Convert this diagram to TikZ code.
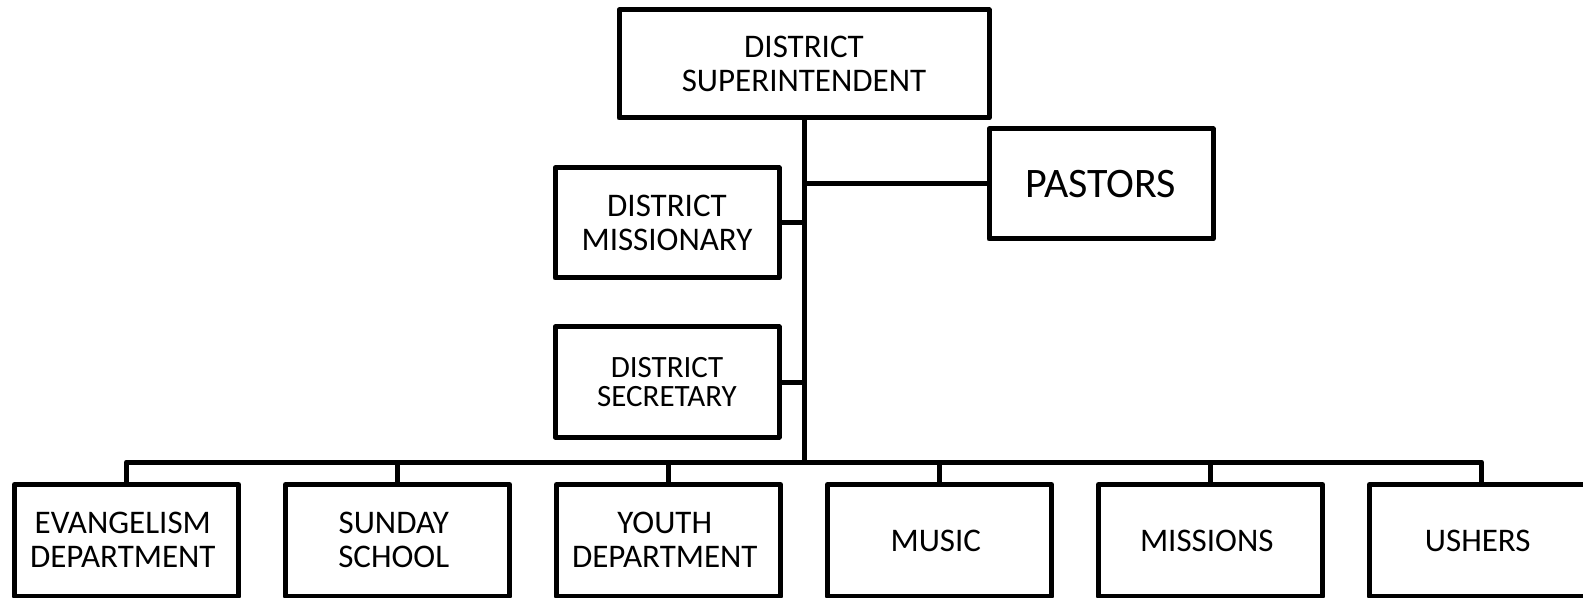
\documentclass[tikz,border=0pt]{standalone}
\usepackage{fontspec}
\setmainfont{Carlito}
\usetikzlibrary{matrix,positioning}

\newcommand{\twolines}[2]{\raisebox{-1.8pt}[\height][\depth]{\begin{tabular}{@{}c@{}}#1\\#2\end{tabular}}}

\begin{document}
\begin{tikzpicture}[x=0.5pt,y=-0.5pt,line width=2.5pt,line join=round,
	box/.style={draw,rectangle,outer sep=0pt,inner sep=0pt,
		minimum width=112pt,minimum height=55pt,align=center,
		font=\fontsize{16.5}{17}\selectfont}]

\useasboundingbox (0,0) rectangle (1583,598);

\node[box,minimum width=185pt,minimum height=54pt] (super) at (804,64) {DISTRICT\\SUPERINTENDENT};
\node[box,font=\fontsize{21}{22}\selectfont] (pastors) at (1101,184) {PASTORS};
\node[box] (missionary) at (667,223) {DISTRICT\\MISSIONARY};
\node[box,font=\fontsize{15.5}{14.5}\selectfont] (secretary) at (667,382) {DISTRICT\\SECRETARY};

\matrix (dept) [matrix of nodes,
			nodes={box,minimum height=56pt,anchor=center},
			column sep=21pt,
			inner sep=0pt, outer sep=0pt,
			anchor=north west] at (12,482)
{
\twolines{EVANGELISM}{DEPARTMENT}	& \twolines{SUNDAY}{SCHOOL}	& \twolines{YOUTH}{DEPARTMENT}	& MUSIC	& MISSIONS	& USHERS	\\
};

\coordinate (bus) at (804,462);

\draw (super.south)		-- (bus);
\draw (super.south |- pastors.west)	-- (pastors.west);
\draw (missionary.east)	-- (missionary.east -| bus);
\draw (secretary.east)	-- (secretary.east -| bus);
\draw (dept-1-1.north)	|- (bus) -| (dept-1-6.north);
\foreach \i in {2,...,5}
	\draw (dept-1-\i.north) -- (dept-1-\i.north |- bus);

\end{tikzpicture}
\end{document}
